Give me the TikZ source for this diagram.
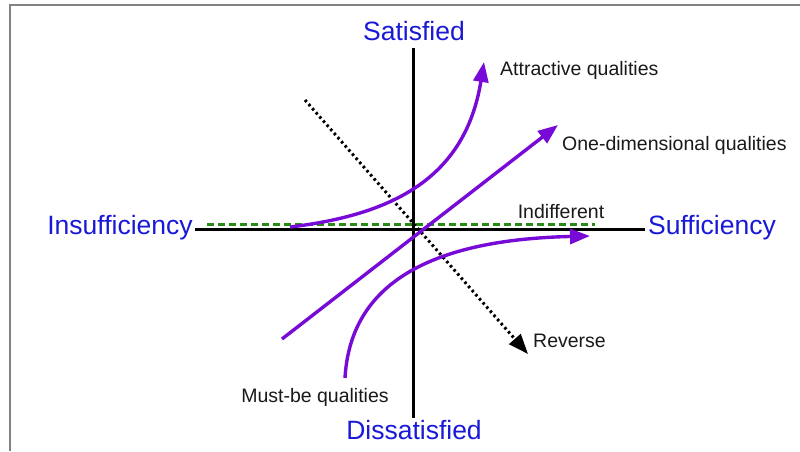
\documentclass[tikz,border=0pt]{standalone}
\usepackage{fontspec}
\setmainfont{Liberation Sans}
\usetikzlibrary{arrows.meta}
\definecolor{kpurple}{RGB}{120,10,215}
\definecolor{kblue}{RGB}{25,25,215}
\definecolor{kgreen}{RGB}{40,140,20}
\definecolor{kgray}{RGB}{130,130,130}
\tikzset{
  axis/.style={line width=3pt,black},
  qline/.style={line width=3.4pt,kpurple,-{Triangle[length=20pt,width=15pt]}},
  biglabel/.style={text=kblue,font=\fontsize{26.5}{30}\selectfont,inner sep=0pt},
  smalllabel/.style={text=black!90,font=\fontsize{19.5}{23}\selectfont,inner sep=0pt},
}
\begin{document}
\begin{tikzpicture}[x=1pt,y=-1pt]
\useasboundingbox (0,0) rectangle (800,451);
\fill[white] (0,0) rectangle (800,451);
% frame
\draw[kgray,line width=1.5pt] (10,451) -- (10,5) -- (800,5);
% labels
\node[biglabel] (sat) at (414,31) {Satisfied};
\node[biglabel] (dis) at (414,430) {Dissatisfied};
\node[biglabel] (ins) at (120,228) {Insufficiency};
\node[biglabel] (suf) at (712,228) {Sufficiency};
\node[smalllabel,anchor=west] (att) at (500,70) {Attractive qualities};
\node[smalllabel,anchor=west] (one) at (562,145) {One-dimensional qualities};
\node[smalllabel] (ind) at (561,212) {Indifferent};
\node[smalllabel,anchor=west] (rev) at (533,341) {Reverse};
\node[smalllabel] (must) at (315,397) {Must-be qualities};
% coordinates
\coordinate (vt) at (413,48);
\coordinate (vb) at (413,418);
\coordinate (hl) at (195,229);
\coordinate (hr) at (645,229);
\coordinate (gl) at (207,224);
\coordinate (gr) at (595,224);
\coordinate (as) at (290,227);
\coordinate (ae) at (484,62);
\coordinate (os) at (282,339);
\coordinate (oe) at (558,125);
\coordinate (ms) at (345,378);
\coordinate (me) at (590,236);
\coordinate (rs) at (305,100);
\coordinate (re) at (528,354);
% axes
\draw[axis] (vt) -- (vb);
\draw[axis] (hl) -- (hr);
% indifferent
\draw[kgreen,line width=3pt,dash pattern=on 7pt off 4pt] (gl) -- (gr);
% reverse
\draw[black,line width=3pt,dash pattern=on 2.5pt off 3pt,-{Triangle[length=20pt,width=15pt]}] (rs) -- (re);
% one-dimensional
\draw[qline] (os) -- (oe);
% attractive
\draw[qline] (as) .. controls (390,215) and (465,180) .. (ae);
% must-be
\draw[qline] (ms) .. controls (350,290) and (420,240) .. (me);
\end{tikzpicture}
\end{document}
